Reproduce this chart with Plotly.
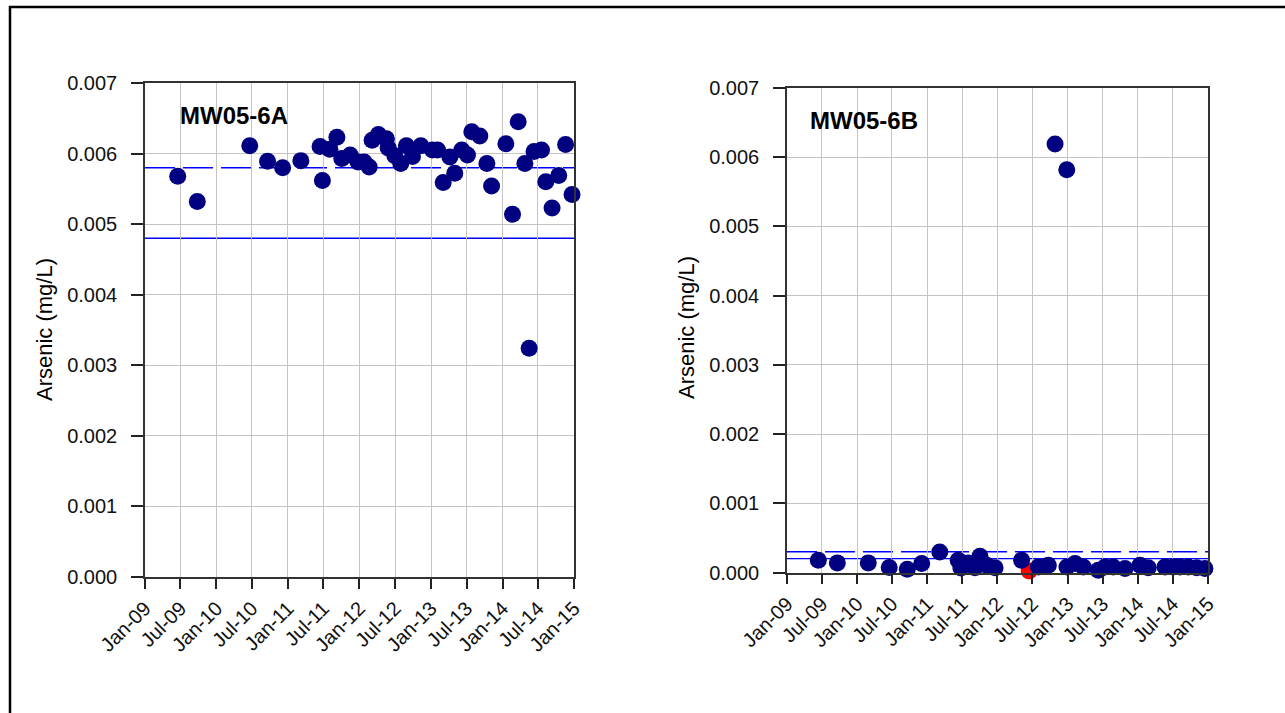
import plotly.graph_objects as go

# ---------------- data ----------------
a_dates = ["2009-06-17", "2009-09-25", "2010-06-20", "2010-09-19", "2010-12-05", "2011-03-08",
           "2011-06-14", "2011-06-26", "2011-08-03", "2011-09-08", "2011-10-03", "2011-11-15",
           "2011-12-25", "2012-01-25", "2012-02-20", "2012-03-06", "2012-04-07", "2012-05-18",
           "2012-05-27", "2012-06-30", "2012-07-30", "2012-08-28", "2012-09-28", "2012-11-10",
           "2013-01-08", "2013-02-03", "2013-03-04", "2013-04-07", "2013-05-02", "2013-06-07",
           "2013-07-06", "2013-07-28", "2013-09-07", "2013-10-13", "2013-11-06", "2014-01-18",
           "2014-02-21", "2014-03-22", "2014-04-25", "2014-05-17", "2014-06-11", "2014-07-19",
           "2014-08-10", "2014-09-11", "2014-10-15", "2014-11-19", "2014-12-22"]
a_vals = [0.00568, 0.00532, 0.00611, 0.00589, 0.00580, 0.00590,
          0.00610, 0.00562, 0.00606, 0.00623, 0.00593, 0.00598,
          0.00588, 0.00588, 0.00581, 0.00619, 0.00627, 0.00621,
          0.00608, 0.00597, 0.00586, 0.00611, 0.00596, 0.00611,
          0.00605, 0.00605, 0.00559, 0.00595, 0.00572, 0.00605,
          0.00598, 0.00631, 0.00625, 0.00586, 0.00554, 0.00614,
          0.00514, 0.00645, 0.00586, 0.00324, 0.00603, 0.00605,
          0.00560, 0.00523, 0.00569, 0.00613, 0.00542]

b_dates = ["2009-06-13", "2009-09-20", "2010-02-28", "2010-06-17", "2010-09-19", "2010-12-03",
           "2011-03-07", "2011-06-11", "2011-06-25", "2011-08-02", "2011-09-06", "2011-10-02",
           "2011-11-06", "2011-12-20", "2012-05-06", "2012-08-01", "2012-09-22", "2012-10-27",
           "2012-12-27", "2012-12-28", "2013-02-08", "2013-03-23", "2013-06-09", "2013-07-14",
           "2013-08-26", "2013-10-26", "2014-01-12", "2014-02-24", "2014-05-22", "2014-07-04",
           "2014-08-08", "2014-09-20", "2014-11-03", "2014-12-16"]
b_vals = [0.000177, 0.000139, 0.000139, 0.000072, 0.000048, 0.000130,
          0.000297, 0.000177, 0.000066, 0.000139, 0.000070, 0.000235,
          0.000105, 0.000070, 0.000177, 0.000080, 0.000105, 0.00619,
          0.00582, 0.000080, 0.000130, 0.000080, 0.000033, 0.000080,
          0.000080, 0.000058, 0.000105, 0.000070, 0.000080, 0.000080,
          0.000080, 0.000080, 0.000070, 0.000058]

b_red_dates = ["2012-06-14"]
b_red_vals = [0.000022]

a_levels = {"dash": 0.0058, "solid": 0.0048}
b_levels = {"dash": 0.0003, "solid": 0.0002}

tick_dates = ["2009-01-01", "2009-07-01", "2010-01-01", "2010-07-01", "2011-01-01", "2011-07-01",
              "2012-01-01", "2012-07-01", "2013-01-01", "2013-07-01", "2014-01-01", "2014-07-01",
              "2015-01-01"]
tick_text = ["Jan-09", "Jul-09", "Jan-10", "Jul-10", "Jan-11", "Jul-11", "Jan-12", "Jul-12",
             "Jan-13", "Jul-13", "Jan-14", "Jul-14", "Jan-15"]

titles = ["MW05-6A", "MW05-6B"]
ytitle = "Arsenic (mg/L)"

# ---------------- figure ----------------
W, H = 1285, 713
FONT = "Liberation Sans, Arial, sans-serif"
NAVY = "#000080"
BLUE = "#0000ff"

fig = go.Figure()

fig.add_trace(go.Scatter(x=a_dates, y=a_vals, mode="markers", xaxis="x", yaxis="y", cliponaxis=False,
                         marker=dict(color=NAVY, size=17, line=dict(width=0)), showlegend=False))
fig.add_trace(go.Scatter(x=b_red_dates, y=b_red_vals, mode="markers", xaxis="x2", yaxis="y2",
                         cliponaxis=False,
                         marker=dict(color="#ff0000", size=17, line=dict(width=0)), showlegend=False))
fig.add_trace(go.Scatter(x=b_dates, y=b_vals, mode="markers", xaxis="x2", yaxis="y2", cliponaxis=False,
                         marker=dict(color=NAVY, size=17, line=dict(width=0)), showlegend=False))

for xr, yr, lv in (("x", "y", a_levels), ("x2", "y2", b_levels)):
    fig.add_shape(type="line", xref=f"{xr} domain", yref=yr, x0=0, x1=1,
                  y0=lv["dash"], y1=lv["dash"], line=dict(color=BLUE, width=1.5, dash="30px,8px"),
                  layer="below")
    fig.add_shape(type="line", xref=f"{xr} domain", yref=yr, x0=0, x1=1,
                  y0=lv["solid"], y1=lv["solid"], line=dict(color=BLUE, width=1.3),
                  layer="below")


def px_x(p):
    return p / W


def px_y(p):
    return 1 - p / H


xax = dict(type="date", range=[tick_dates[0], tick_dates[-1]], tickmode="array",
           tickvals=tick_dates, ticktext=tick_text, tickangle=-45, automargin=False,
           ticks="outside", ticklen=10, tickwidth=1.5, tickcolor="#222",
           showline=True, linecolor="#333", linewidth=1.5, mirror=True,
           showgrid=True, gridcolor="#c4c4c4", gridwidth=1, zeroline=False,
           tickfont=dict(family=FONT, size=20, color="#111"))
yax = dict(range=[0, 0.007], tickmode="linear", tick0=0, dtick=0.001, tickformat=".3f",
           ticks="outside", ticklen=12, tickwidth=1.5, tickcolor="#222", automargin=False,
           showline=True, linecolor="#333", linewidth=1.5, mirror=True,
           showgrid=True, gridcolor="#c4c4c4", gridwidth=1, zeroline=False,
           ticklabelstandoff=10,
           tickfont=dict(family=FONT, size=20, color="#111"))

fig.update_layout(
    template="none",
    width=W, height=H, margin=dict(l=0, r=0, t=0, b=0, pad=0), autosize=False,
    paper_bgcolor="white", plot_bgcolor="white", showlegend=False,
    xaxis=dict(xax, domain=[px_x(145), px_x(574)], anchor="y"),
    yaxis=dict(yax, domain=[px_y(577), px_y(83)], anchor="x"),
    xaxis2=dict(xax, domain=[px_x(787), px_x(1208)], anchor="y2"),
    yaxis2=dict(yax, domain=[px_y(572.5), px_y(88)], anchor="x2"),
)

# outer frame
fig.add_shape(type="rect", xref="paper", yref="paper", x0=px_x(10), x1=px_x(1300),
              y0=px_y(730), y1=px_y(7), line=dict(color="black", width=2.5), layer="above")

# titles & axis titles
fig.add_annotation(text=f"<b>{titles[0]}</b>", xref="paper", yref="paper", x=px_x(178), y=px_y(115.5),
                   xanchor="left", yanchor="middle", showarrow=False,
                   font=dict(family=FONT, size=24, color="black"))
fig.add_annotation(text=f"<b>{titles[1]}</b>", xref="paper", yref="paper", x=px_x(808), y=px_y(120.5),
                   xanchor="left", yanchor="middle", showarrow=False,
                   font=dict(family=FONT, size=24, color="black"))
fig.add_annotation(text=ytitle, xref="paper", yref="paper", x=px_x(44), y=px_y(330),
                   textangle=-90, xanchor="center", yanchor="middle", showarrow=False,
                   font=dict(family=FONT, size=22, color="black"))
fig.add_annotation(text=ytitle, xref="paper", yref="paper", x=px_x(686), y=px_y(328),
                   textangle=-90, xanchor="center", yanchor="middle", showarrow=False,
                   font=dict(family=FONT, size=22, color="black"))

fig.write_html("out.html")
